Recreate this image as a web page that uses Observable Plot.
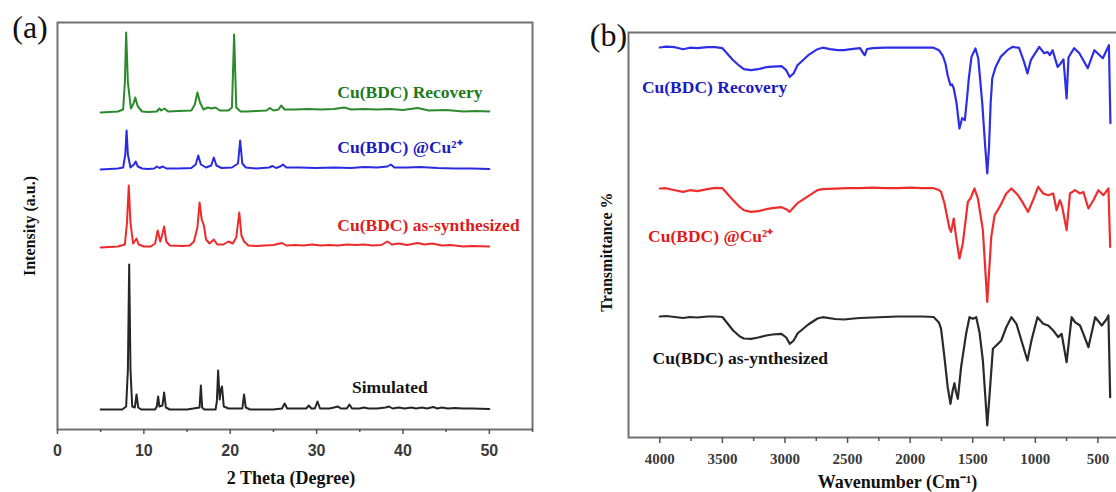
<!DOCTYPE html>
<html>
<head>
<meta charset="utf-8">
<script src="https://cdn.jsdelivr.net/npm/d3@7"></script>
<script src="https://cdn.jsdelivr.net/npm/@observablehq/plot@0.6"></script>
<style>
  html, body { margin: 0; padding: 0; background: #fff; overflow: hidden; width: 1116px; height: 492px; position: relative; }
  #xrd { position: absolute; left: 0; top: 0; width: 560px; height: 492px; }
  #ftir { position: absolute; left: 560px; top: 0; width: 600px; height: 492px; }
  #xrd svg, #ftir svg { max-width: none; display: block; }
</style>
</head>
<body>
<div id="xrd"></div>
<div id="ftir"></div>
<script>
const serif = "'Liberation Serif', 'Times New Roman', serif";
const sans = "'Liberation Sans', Arial, sans-serif";

// ---------- (a) XRD patterns: [2θ (deg), intensity above the pattern's baseline (a.u.)] ----------
const xrdSimulated = [
  [5,0],[7.5,0],[7.95,3],[8.15,40],[8.3,145],[8.45,40],[8.65,3],[8.95,2],[9.15,15],[9.35,2],[9.7,0],
  [11.3,0],[11.5,3],[11.65,13],[11.8,3],[12.15,4],[12.35,17],[12.55,2],[13,0],[15,0],[16.45,2],[16.6,24],
  [16.75,2],[17,0],[18.3,0],[18.45,8],[18.6,39],[18.78,10],[18.92,20],[19.05,23],[19.25,3],[19.8,1],
  [21.4,1],[21.6,15],[21.8,2],[22.3,0],[25,0],[26.0,1],[26.3,6],[26.6,1],[27.5,1],[28.8,1],[29.1,4],
  [29.4,1],[29.8,1],[30.1,8],[30.4,1],[31.5,1],[32.5,3],[32.8,1],[33.5,1],[33.8,5],[34.1,1],[35,1],
  [35.5,2],[36,1],[37,1],[38.0,2],[38.4,3],[38.8,1],[39.5,2],[40.2,1],[41,2],[41.5,1],[42.2,2],
  [42.8,1],[43.5,2.5],[44,1],[44.5,2],[45.2,1],[46,1.5],[47,1],[48,1],[50,0.5]
];
const xrdAsSynthesized = [
  [5,0],[6,0.5],[7,1],[7.8,3],[8.05,25],[8.25,62],[8.45,25],[8.75,4],[9.0,7],[9.15,9],[9.4,3],[10,1],
  [10.8,1],[11.3,4],[11.6,17],[11.9,6],[12.1,12],[12.35,21],[12.6,6],[13.0,2],[14.5,1.5],[15.3,2],
  [15.8,6],[16.2,20],[16.45,45],[16.7,28],[16.95,22],[17.2,8],[17.6,4],[18.1,8],[18.5,3],[19.2,3],
  [19.8,6],[20.3,4],[20.7,10],[21.05,35],[21.3,12],[21.6,6],[22.1,2],[23,1.5],[24,2],[25,2.5],
  [26.0,4.5],[26.5,2],[27.5,2.5],[28.5,2],[29.5,3],[30.5,2],[31.5,2.5],[32.5,2],[33.5,3],[34.5,2.5],
  [35.5,3],[36.5,2],[37.5,2.5],[38.2,6],[38.7,3],[39.5,4],[40.5,2.5],[41.7,4.5],[42.5,3],[43.4,4],
  [44.5,2],[45.5,2.5],[47,1],[48,1.5],[50,1]
];
const xrdCu = [
  [5,0],[6,0.5],[7,1],[7.6,2],[7.85,15],[8.0,39],[8.15,15],[8.45,2],[8.85,5],[9.05,8],[9.3,3],[9.8,1],
  [10.5,0.5],[11.2,1],[11.5,3],[11.8,1.5],[12.2,3],[12.6,1],[14,1],[15.5,1.5],[16.0,5],[16.3,14],
  [16.6,5],[17.2,2],[17.8,4],[18.1,12],[18.4,4],[19,1.5],[20.2,2],[20.9,6],[21.15,29],[21.4,6],
  [21.8,2],[23,1],[24.5,2],[24.9,3.5],[25.3,1.5],[25.8,3],[26.1,5],[26.5,2],[28,2],[30,1.5],[32,2],
  [34,1.5],[35.5,2.5],[37,2],[38.2,3],[38.6,5],[39,2],[40.5,2],[42,2.5],[44,1.5],[46,1],[48,1],[50,0.5]
];
const xrdRecovery = [
  [5.0,0],[6.0,0.5],[7.0,1],[7.6,3],[7.8,30],[7.95,80],[8.15,30],[8.5,4],[8.8,9],[9.0,15],[9.3,6],
  [9.8,1],[10.5,0.5],[11.5,1],[11.8,4],[12.0,2],[12.4,4],[12.8,1],[14,1.5],[15.5,2],[15.9,8],
  [16.2,20],[16.5,10],[16.9,3],[17.4,5],[17.8,4],[18.3,5],[18.8,2],[19.8,2],[20.2,5],[20.45,78],
  [20.7,5],[21.2,1],[22,1],[23,1.5],[24.2,2],[24.6,4.5],[25.0,2],[25.6,3],[25.9,7],[26.3,3],
  [27.5,3],[29,3.5],[30.5,3],[32,3.5],[33.2,5],[34,3],[35.5,3.5],[37,3],[38.5,3.5],[40,2.5],
  [41.7,4.5],[43,2],[45,2.5],[47,1],[48.5,1.5],[50,1]
];
const xrdNames = ["Simulated", "Cu(BDC) as-synthesized", "Cu(BDC) @Cu²⁺", "Cu(BDC) Recovery"];
const xrdPatterns = [xrdSimulated, xrdAsSynthesized, xrdCu, xrdRecovery];
const xrdOffsets = [20, 182, 260, 317];           // vertical stacking of the patterns
const thetaTicks = [0, 10, 20, 30, 40, 50];
const thetaMinorTicks = [5, 15, 25, 35, 45, 55];

// ---------- (b) FTIR spectra: [wavenumber (cm-1), transmittance change from the spectrum's baseline] ----------
const ftirAsSynthesized = [
  [4000,0],[3950,0.5],[3880,-0.5],[3814,-1.5],[3760,-0.5],[3700,-1],[3620,0],[3557,0],[3500,-0.5],
  [3471,-5],[3414,-14],[3360,-20],[3328,-22],[3271,-22.3],[3214,-21],[3150,-19],[3100,-18],[3028,-17.3],
  [2990,-21],[2962,-27.3],[2930,-24],[2900,-17],[2814,-8],[2740,-2],[2699,-0.7],[2600,-2.5],[2528,-3],
  [2450,-2],[2400,-1.5],[2300,-1],[2200,-0.5],[2100,0],[2000,0],[1900,0],[1813,-0.5],[1770,-6],
  [1753,-12.3],[1726,-40.7],[1700,-70.7],[1678,-87.3],[1660,-74],[1646,-66.7],[1633,-75.7],[1619,-82.3],
  [1593,-50.7],[1553,-17.3],[1526,-0.7],[1499,-2.3],[1472,-0.7],[1446,-15.7],[1419,-44],[1392,-94],
  [1384,-109],[1365,-77.3],[1339,-32.3],[1312,-29],[1272,-24],[1232,-10.7],[1191,-0.7],[1151,-7.3],
  [1111,-24],[1063,-44],[1031,-24],[983,-0.7],[937,-7.3],[897,-9],[857,-14],[817,-20.7],[790,-17.3],
  [750,-45.7],[710,-0.7],[683,-5.7],[643,-9],[616,-17.3],[576,-30.7],[522,-0.7],[469,-9],[429,-2.3],
  [416,1],[402,-80.7]
];
const ftirCu = [
  [4000,0],[3950,0.3],[3880,-1.7],[3814,-3.4],[3760,-1.7],[3700,-2.7],[3620,-0.7],[3557,0.6],[3500,0.3],
  [3471,-3.7],[3414,-11.7],[3360,-18.7],[3328,-21.7],[3271,-23.4],[3214,-22.7],[3150,-20.7],[3100,-19.7],
  [3028,-18.7],[2990,-20.7],[2962,-23.4],[2930,-18.7],[2900,-14.7],[2814,-7.7],[2740,-1.7],[2699,-0.7],
  [2600,-0.2],[2500,0.3],[2400,0.3],[2300,0.8],[2200,0.3],[2100,0.3],[2000,0.8],[1900,0.3],[1813,0.3],
  [1770,-1.5],[1753,-3.4],[1726,-14.7],[1686,-39.7],[1673,-43.4],[1652,-30],[1633,-48.4],[1606,-70],
  [1579,-54.7],[1539,-13.4],[1518,-10],[1486,0],[1459,-10],[1419,-41.7],[1384,-113.4],[1352,-48.4],
  [1325,-26.7],[1285,-18.4],[1232,-5],[1191,0],[1138,-6.7],[1098,-14.7],[1058,-23.4],[1018,-11.7],
  [977,1.6],[937,-5],[897,-6.7],[857,-5],[830,-21.7],[804,-11.7],[785,-18.4],[750,-41.7],[723,-5],
  [683,-1.7],[643,-5],[616,-3.4],[576,-20],[536,-11.7],[496,-1.7],[456,-6.7],[416,0],[402,-58.4]
];
const ftirRecovery = [
  [4000,0],[3950,0.8],[3880,0.3],[3814,-1.7],[3760,-0.2],[3700,-0.7],[3620,0.3],[3557,0.3],[3500,-0.7],
  [3471,-4.7],[3414,-12.7],[3360,-18.7],[3328,-21.7],[3271,-22.7],[3214,-21.7],[3150,-19.7],[3100,-19.2],
  [3028,-18.7],[2990,-22.7],[2962,-29.4],[2930,-25.7],[2900,-17.7],[2814,-7.7],[2740,-1.7],[2699,-0.2],
  [2640,-1.7],[2580,-2.7],[2528,-2.7],[2470,-1.7],[2400,-0.7],[2375,-5.7],[2362,-7.7],[2345,-1.7],
  [2300,-0.7],[2200,-0.2],[2000,-0.2],[1813,-0.2],[1770,-2.7],[1740,-8],[1718,-16],[1700,-28],
  [1678,-37.7],[1665,-37],[1652,-40.7],[1630,-55],[1606,-81],[1585,-70.7],[1563,-72.7],[1545,-50],
  [1531,-30.7],[1510,-9.4],[1491,-4.4],[1478,-1],[1456,-10.7],[1424,-55.7],[1400,-100],[1384,-126],
  [1370,-100],[1357,-55.7],[1344,-30.7],[1317,-19.4],[1277,-9.4],[1223,-2.7],[1183,0.6],[1130,-0.4],
  [1090,-14.4],[1063,-26],[1036,-12.7],[969,0.6],[929,-5.7],[903,-4.4],[884,-7.7],[862,-2.7],
  [822,-19.4],[796,-15.7],[775,-12],[750,-51],[735,-10],[715,-5.7],[689,-0.7],[648,-5.7],[581,-20.7],
  [528,-2.7],[461,-10.7],[412,2.3],[400,-75.7]
];
const ftirNames = ["Cu(BDC) as-ynthesized", "Cu(BDC) @Cu²⁺", "Cu(BDC) Recovery"];
const ftirSpectra = [ftirAsSynthesized, ftirCu, ftirRecovery];
const ftirOffsets = [121, 249, 390];               // vertical stacking of the spectra
const wavenumberTicks = [4000, 3500, 3000, 2500, 2000, 1500, 1000, 500];
const wavenumberMinorTicks = [3750, 3250, 2750, 2250, 1750, 1250, 750, 250];

// ---------- styling ----------
const xrdLineColors = ["#262626", "#ee2a2a", "#2a2ae0", "#2b8a2b"];
const xrdTextColors = ["#141414", "#e01b1b", "#1b1bbf", "#1d7a1d"];
const ftirLineColors = ["#2a2a2a", "#ee2e2e", "#2e2ee6"];
const ftirTextColors = ["#141414", "#e01b1b", "#1b1bbf"];
// label anchors: [x in data units, height relative to the curve's baseline]
const xrdLabelAnchors = [[34.1, 22], [32.4, 22], [32.4, 22], [32.4, 20]];
const ftirLabelAnchors = [[4058, -42], [4094, -48], [4143, -40]];

const frameColor = "#707070";

function stackRows(curves, offsets) {
  return curves.map((pts, i) => pts.map(([x, v]) => ({x, y: offsets[i] + v})));
}

// shared look of the free-standing titles
const titleText = {textAnchor: "middle", lineAnchor: "middle", fontWeight: "bold", fontFamily: serif, fill: "#111"};

// ---------- panel (a) ----------
const xrdRows = stackRows(xrdPatterns, xrdOffsets);
const xrdLabels = xrdNames.map((name, i) => ({
  name, x: xrdLabelAnchors[i][0], y: xrdOffsets[i] + xrdLabelAnchors[i][1], color: xrdTextColors[i]
}));

const plotA = Plot.plot({
  width: 560, height: 492,
  marginLeft: 57, marginRight: 28, marginTop: 22, marginBottom: 63,
  x: {domain: [0, 55], axis: null},
  y: {domain: [0, 407], axis: null},
  marks: [
    ...xrdRows.map((rows, i) => Plot.line(rows, {x: "x", y: "y", stroke: xrdLineColors[i], strokeWidth: 2, strokeLinejoin: "round"})),
    ...xrdLabels.map(d => Plot.text([d], {x: "x", y: "y", text: "name", fill: d.color, textAnchor: "start",
      fontSize: 17.5, fontWeight: "bold", fontFamily: serif})),
    Plot.frame({stroke: frameColor, strokeWidth: 2}),
    Plot.axisX(thetaTicks, {label: null, tickSize: 5, tickPadding: 10, stroke: "#555", strokeWidth: 1.5,
      tickFormat: d => String(d), fontSize: 16, fontWeight: "bold", fontFamily: sans, fill: "#3a3a3a"}),
    Plot.axisX(thetaMinorTicks, {label: null, tickSize: 3, text: null, stroke: "#555", strokeWidth: 1.5}),
    Plot.text(["2 Theta (Degree)"], {...titleText, frameAnchor: "bottom", text: d => d, dx: -4, dy: 49, fontSize: 18}),
    Plot.text(["Intensity (a.u.)"], {...titleText, frameAnchor: "left", text: d => d, rotate: -90, dx: -28, fontSize: 16}),
    Plot.text(["(a)"], {...titleText, frameAnchor: "top-left", text: d => d, dx: -27.5, dy: 5.5,
      fontSize: 32, fontWeight: "normal"})
  ]
});
document.getElementById("xrd").append(plotA);

// ---------- panel (b) ----------
const ftirRows = stackRows(ftirSpectra, ftirOffsets);
const ftirLabels = ftirNames.map((name, i) => ({
  name, x: ftirLabelAnchors[i][0], y: ftirOffsets[i] + ftirLabelAnchors[i][1], color: ftirTextColors[i]
}));

const plotB = Plot.plot({
  width: 600, height: 492,
  marginLeft: 68, marginRight: 0, marginTop: 32, marginBottom: 55,
  x: {domain: [4250, 0], axis: null},
  y: {domain: [0, 405], axis: null},
  marks: [
    ...ftirRows.map((rows, i) => Plot.line(rows, {x: "x", y: "y", stroke: ftirLineColors[i], strokeWidth: 2.2, strokeLinejoin: "round"})),
    ...ftirLabels.map(d => Plot.text([d], {x: "x", y: "y", text: "name", fill: d.color, textAnchor: "start",
      fontSize: 17.5, fontWeight: "bold", fontFamily: serif})),
    Plot.frame({stroke: frameColor, strokeWidth: 2}),
    Plot.axisX(wavenumberTicks, {label: null, tickSize: 6, tickPadding: 10, stroke: "#555", strokeWidth: 1.5,
      tickFormat: d => String(d), fontSize: 15, fontWeight: "bold", fontFamily: serif, fill: "#3a3a3a"}),
    Plot.axisX(wavenumberMinorTicks, {label: null, tickSize: 4, text: null, stroke: "#555", strokeWidth: 1.5}),
    Plot.text(["Wavenumber (Cm⁻¹)"], {...titleText, frameAnchor: "bottom", text: d => d, dx: 3, dy: 45, fontSize: 18}),
    Plot.text(["Transmittance %"], {...titleText, frameAnchor: "left", text: d => d, rotate: -90, dx: -22, dy: 17, fontSize: 16}),
    Plot.text(["(b)"], {...titleText, frameAnchor: "top-left", text: d => d, dx: -20, dy: 3,
      fontSize: 32, fontWeight: "normal"})
  ]
});
document.getElementById("ftir").append(plotB);
</script>
</body>
</html>
